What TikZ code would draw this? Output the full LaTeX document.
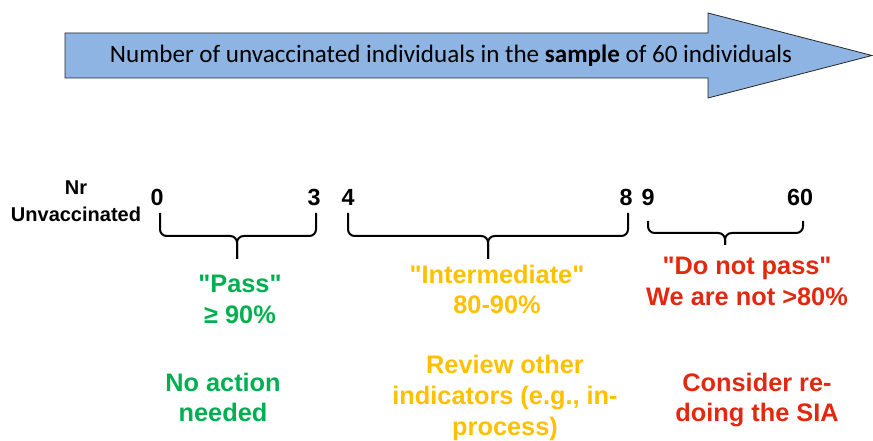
\documentclass[tikz,border=0pt]{standalone}
\usepackage{fontspec}
\setmainfont{Liberation Sans}[Ligatures=TeXOff]
\newfontfamily\calibri{Carlito}
\definecolor{arrowblue}{RGB}{141,180,226}
\definecolor{passgreen}{RGB}{0,176,80}
\definecolor{midyellow}{RGB}{255,192,0}
\definecolor{failred}{RGB}{226,40,14}
\tikzset{
	bracket/.style={line width=1.5pt, rounded corners=5pt, line join=round},
	number/.style={font=\bfseries\fontsize{17.5}{20}\selectfont, inner sep=0pt},
	verdict/.style={font=\bfseries\fontsize{19}{23}\selectfont, align=center, inner sep=0pt},
}
\begin{document}
\begin{tikzpicture}[x=0.75pt,y=-0.75pt]
		\useasboundingbox (0,0) rectangle (873,441);
		% big arrow on top
		\draw[fill=arrowblue, draw=black!85, line width=0.6pt] (65,33) -- (708,33) -- (708,13) -- (872,55.5) -- (708,98) -- (708,78) -- (65,78) -- cycle;
		\node (title) at (451,56) {\calibri\fontsize{18.8}{22}\selectfont Number of unvaccinated individuals in the \textbf{sample} of 60 individuals};
		
		% counts
		\node[font=\bfseries\fontsize{15}{20}\selectfont, align=center] (nr) at (76,201) {Nr\\Unvaccinated};
		\node[number] (n0) at (157,197) {0};
		\node[number] (n3) at (314,197) {3};
		\node[number] (n4) at (348,197) {4};
		\node[number] (n8) at (626,197) {8};
		\node[number] (n9) at (648,197) {9};
		\node[number] (n60) at (800,197) {60};
		
		% braces
		\draw[bracket] (160,213) -- (160,236) -- (237,236) -- (237,259);
		\draw[bracket] (316,213) -- (316,236) -- (237,236) -- (237,259);
		\draw[bracket] (348,213) -- (348,236) -- (488,236) -- (488,259);
		\draw[bracket] (628,213) -- (628,236) -- (488,236) -- (488,259);
		\draw[bracket] (648,221) -- (648,233) -- (725,233) -- (725,245);
		\draw[bracket] (803,221) -- (803,233) -- (725,233) -- (725,245);
		
		% verdicts
		\node[verdict, text=passgreen] (pass) at (240,299.5) {"Pass"\\≥ 90\%};
		\node[verdict, text=passgreen] (noaction) at (223,397.5) {No action\\needed};
		\node[verdict, text=midyellow] (inter) at (497,289.5) {"Intermediate"\\80-90\%};
		\node[verdict, text=midyellow] (review) at (505,398) {Review other\\indicators (e.g., in-\\process)};
		\node[verdict, text=failred] (nopass) at (747,281.5) {"Do not pass"\\We are not >80\%};
		\node[verdict, text=failred] (redo) at (757,400) {Consider re-\\doing the SIA};
	\end{tikzpicture}
\end{document}
